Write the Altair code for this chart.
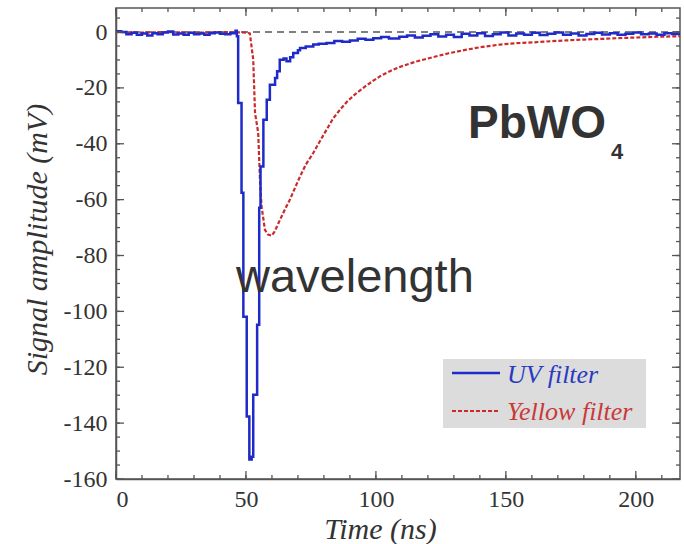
import altair as alt
import pandas as pd

# ---------------- data ----------------
uv_t = [0, 2, 4, 6, 8, 10, 12, 14, 16, 18, 20, 22, 24, 26, 28, 30, 32, 34, 36, 38,
        40, 42, 44, 46, 46.5, 47, 48.3, 49, 50.3, 51.3, 52.2, 52.8, 54.3, 55.1, 55.6,
        56.7, 58, 59.2, 61.2, 62, 63, 64.5, 65.6, 67, 68.2, 70, 70.8, 73, 75.9, 78,
        81, 84, 87, 90, 93, 96, 99, 102, 105, 109, 112, 115, 118, 121, 124, 127, 130,
        133, 136, 139, 142, 145, 148, 151, 154, 157, 160, 163, 166, 169, 172, 175,
        178, 181, 184, 187, 190, 193, 196, 199, 202, 205, 208, 211, 214, 217]
uv_v = [0.3, 0, -0.8, -0.3, -1, -0.5, -1.2, -0.4, -0.8, -0.2, 0.2, -0.9, -0.5, -1,
        -0.3, -0.8, -0.5, -1, -0.4, -0.2, -0.6, -0.8, -0.4, 0.5, -1.5, -25.4, -57.5,
        -101.9, -137.6, -153, -152, -129.8, -104.8, -62.9, -48.1, -31.4, -24.2, -18.9,
        -16.5, -14, -9.9, -9.5, -10.5, -9, -7.5, -6.5, -5.7, -5.2, -4.5, -4.2, -3.9,
        -3.2, -3.5, -3.0, -2.4, -2.8, -2.2, -1.8, -2.3, -1.7, -1.2, -2, -1.3, -0.8,
        -1.6, -1.0, -1.8, -0.6, -1.2, -0.4, -1.4, -0.8, -0.2, -1.2, -0.5, -1.0, -0.3,
        -1.1, -0.6, -0.2, -1.0, -0.5, -1.2, -0.7, -0.3, -0.9, -0.4, -1.0, -0.6, -0.2,
        -0.8, -0.5, -1.0, -0.4, -0.7, -0.5]

yel_t = [0, 10, 20, 30, 40, 50, 51.5, 52.8, 53.5, 54.7, 55.4, 56, 57.3, 58.5, 59.9,
         61, 63.1, 65, 66.9, 69, 70.8, 73, 75.9, 78.5, 81, 83.5, 86.2, 89, 92.6, 96,
         99, 102, 105.4, 109.2, 115, 122, 128, 134.9, 141, 147.7, 154, 160.5, 167,
         173.3, 180, 186, 193, 199, 208, 217]
yel_v = [0, -0.2, 0, -0.3, 0, -0.2, -0.5, -9.9, -29, -36, -52.9, -62.4, -70.8, -72.5,
         -72.9, -71.5, -67.2, -63.5, -60, -55.5, -51.7, -47.5, -43.3, -39, -35, -31,
         -27.8, -24.8, -21.8, -19.4, -17.4, -15.6, -14.0, -12.5, -10.7, -9.0, -7.6, -6.3,
         -5.3, -4.5, -4.0, -3.7, -3.3, -3.0, -2.7, -2.5, -2.2, -2.0, -1.7, -1.5]

x_major = [0, 50, 100, 150, 200]
x_minor = list(range(0, 220, 10))
y_major = [-160, -140, -120, -100, -80, -60, -40, -20, 0]
y_minor = list(range(-160, 10, 5))

legend_labels = ["UV filter", "Yellow filter"]

# ---------------- styling ----------------
W, H = 564, 471
X_DOMAIN = [0, 217]
Y_DOMAIN = [-160, 8.6]
BLUE = "#1f2bc8"
RED = "#cc2a2a"
AXC = "#555555"
TXT = "#333333"
SERIF = "Liberation Serif"
SANS = "Liberation Sans"

xs = alt.Scale(domain=X_DOMAIN, nice=False, zero=False)
ys = alt.Scale(domain=Y_DOMAIN, nice=False, zero=False)

X_AX = alt.Axis(values=x_major, ticks=False, tickSize=0, grid=False,
                labelFont=SERIF, labelFontSize=24, labelColor=TXT, labelPadding=8,
                domainColor=AXC, domainWidth=1.5,
                title="Time (ns)", titleFont=SERIF, titleFontStyle="italic",
                titleFontWeight="normal", titleFontSize=30, titleColor=TXT,
                titleX=264, titleY=59, titleBaseline="alphabetic", titleAnchor="middle")
Y_AX = alt.Axis(values=y_major, ticks=False, tickSize=0, grid=False,
                labelFont=SERIF, labelFontSize=24, labelColor=TXT, labelPadding=9,
                labelExpr="datum.value + ''",
                domainColor=AXC, domainWidth=1.5,
                title="Signal amplitude (mV)", titleFont=SERIF, titleFontStyle="italic",
                titleFontWeight="normal", titleFontSize=30, titleColor=TXT,
                titleX=-70, titleY=231, titleBaseline="alphabetic", titleAngle=-90,
                titleAlign="center")

uv_df = pd.DataFrame({"t": uv_t, "v": uv_v})
yel_df = pd.DataFrame({"t": yel_t, "v": yel_v})

zero = alt.Chart(pd.DataFrame({"v": [0]})).mark_rule(
    color="#555555", strokeWidth=1.5, strokeDash=[7, 5]
).encode(y=alt.Y("v:Q", scale=ys, axis=Y_AX))

uv_line = alt.Chart(uv_df).mark_line(
    color=BLUE, strokeWidth=2.5, interpolate="step-after", clip=True
).encode(x=alt.X("t:Q", scale=xs, axis=X_AX), y=alt.Y("v:Q", scale=ys, axis=Y_AX))

yel_line = alt.Chart(yel_df).mark_line(
    color=RED, strokeWidth=2.2, strokeDash=[4, 2], clip=True
).encode(x=alt.X("t:Q", scale=xs, axis=X_AX), y=alt.Y("v:Q", scale=ys, axis=Y_AX))


def xticks(vals, length):
    d = pd.DataFrame({"t": vals})
    bottom = alt.Chart(d).mark_rule(color=AXC, strokeWidth=1.3).encode(
        x=alt.X("t:Q", scale=xs, axis=X_AX), y=alt.value(H), y2=alt.value(H - length))
    top = alt.Chart(d).mark_rule(color=AXC, strokeWidth=1.3).encode(
        x=alt.X("t:Q", scale=xs, axis=X_AX), y=alt.value(0), y2=alt.value(length))
    return [bottom, top]


def yticks(vals, length):
    d = pd.DataFrame({"v": vals})
    left = alt.Chart(d).mark_rule(color=AXC, strokeWidth=1.3).encode(
        y=alt.Y("v:Q", scale=ys, axis=Y_AX), x=alt.value(0), x2=alt.value(length))
    right = alt.Chart(d).mark_rule(color=AXC, strokeWidth=1.3).encode(
        y=alt.Y("v:Q", scale=ys, axis=Y_AX), x=alt.value(W), x2=alt.value(W - length))
    return [left, right]


one = pd.DataFrame({"k": [0]})
leg_box = alt.Chart(one).mark_rect(color="#dcdcdc").encode(
    x=alt.value(327), x2=alt.value(530), y=alt.value(351), y2=alt.value(420))
leg_uv = alt.Chart(one).mark_rule(color=BLUE, strokeWidth=2.5).encode(
    x=alt.value(336), x2=alt.value(384), y=alt.value(365))
leg_yel = alt.Chart(one).mark_rule(color=RED, strokeWidth=2.2, strokeDash=[4, 2]).encode(
    x=alt.value(336), x2=alt.value(384), y=alt.value(403))
leg_t1 = alt.Chart(pd.DataFrame({"s": [legend_labels[0]]})).mark_text(
    font=SERIF, fontStyle="italic", fontSize=26, color="#2a3bc0",
    align="left", baseline="alphabetic").encode(
    x=alt.value(391), y=alt.value(375), text="s:N")
leg_t2 = alt.Chart(pd.DataFrame({"s": [legend_labels[1]]})).mark_text(
    font=SERIF, fontStyle="italic", fontSize=26, color="#c83a3a",
    align="left", baseline="alphabetic").encode(
    x=alt.value(391), y=alt.value(412), text="s:N")

pb = alt.Chart(pd.DataFrame({"s": ["PbWO"]})).mark_text(
    font=SANS, fontWeight="bold", fontSize=46, color=TXT,
    align="left", baseline="alphabetic").encode(
    x=alt.value(352), y=alt.value(130), text="s:N")
pb4 = alt.Chart(pd.DataFrame({"s": ["4"]})).mark_text(
    font=SANS, fontWeight="bold", fontSize=22, color=TXT,
    align="left", baseline="alphabetic").encode(
    x=alt.value(495), y=alt.value(151), text="s:N")
wave = alt.Chart(pd.DataFrame({"s": ["wavelength"]})).mark_text(
    font=SANS, fontSize=47, color=TXT,
    align="left", baseline="alphabetic").encode(
    x=alt.value(120), y=alt.value(284), text="s:N")

layers = [zero, yel_line, uv_line]
layers += xticks(x_minor, 4) + xticks(x_major, 8)
layers += yticks(y_minor, 4) + yticks(y_major, 8)
layers += [leg_box, leg_uv, leg_yel, leg_t1, leg_t2, pb, pb4, wave]

chart = alt.layer(*layers).properties(
    width=W, height=H,
    padding={"left": 116, "top": 8, "right": 4, "bottom": 65},
    autosize=alt.AutoSizeParams(type="none"),
    background="white",
).configure_view(stroke=AXC, strokeWidth=1.5)

chart.save("out.html", embed_options={"renderer": "svg", "actions": False})
